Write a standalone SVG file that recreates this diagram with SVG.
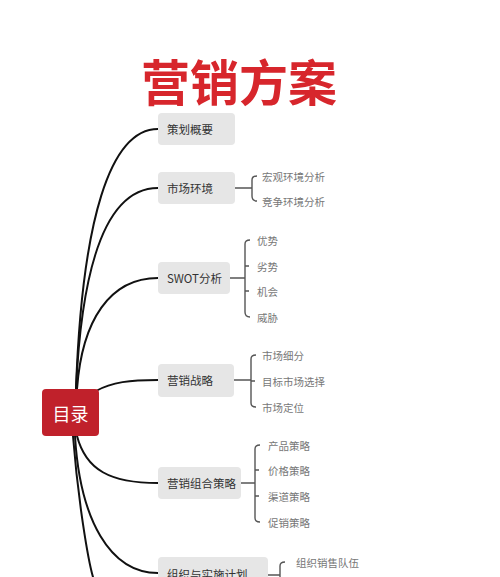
<svg xmlns="http://www.w3.org/2000/svg" width="500" height="577" viewBox="0 0 500 577">
<style>
text{font-family:"Noto Sans CJK SC","Noto Sans",sans-serif;dominant-baseline:central}
.title{font-size:49px;font-weight:bold;fill:#D7262C}
.box{fill:#E6E6E6}
.lbl{font-size:11.5px;fill:#333}
.sub{font-size:10.5px;fill:#777}
.conn{fill:none;stroke:#111;stroke-width:2;stroke-linecap:round}
.br{fill:none;stroke:#555;stroke-width:1.4}
</style>
<rect width="500" height="577" fill="#fff"/>
<text class="title" x="239" y="79" text-anchor="middle">营销方案</text>
<g id="connectors">
<path class="conn" d="M76 389 C82 220 110 129 158 129"/>
<path class="conn" d="M76 389 C82 260 108 188 158 188"/>
<path class="conn" d="M77 389 C82 320 110 278 158 278"/>
<path class="conn" d="M96 391 C112 382 130 380 158 380"/>
<path class="conn" d="M77 436 C86 470 110 483 158 483"/>
<path class="conn" d="M75 436 C80 520 110 573 158 573"/>
<path class="conn" d="M73 436 C78 500 88 560 93 577"/>
<g class="br">
<path d="M235 188 H252 M257 176 Q252 176 252 180 V196 Q252 201 257 201"/>
<path d="M230 278 H245 M250 240 Q245 240 245 244 V312 Q245 317 250 317 M245 266 H249 M245 291 H249"/>
<path d="M234 380 H251 M256 355 Q251 355 251 359 V403 Q251 407 256 407 M251 381 H255"/>
<path d="M241 483 H255 M260 445 Q255 445 255 449 V518 Q255 522 260 522 M255 470 H259 M255 496 H259"/>
<path d="M268 575 H280 M285 562 Q280 562 280 566 V577"/>
</g>
</g>
<g id="root">
<rect x="42" y="389" width="57" height="47" rx="4" fill="#C0212B"/>
<text x="70.5" y="413" text-anchor="middle" style="font-size:18px;fill:#fff">目录</text>
</g>
<g id="n1"><rect class="box" x="158" y="113" width="77" height="32" rx="4"/><text class="lbl" x="167" y="129">策划概要</text></g>
<g id="n2"><rect class="box" x="158" y="172" width="77" height="32" rx="4"/><text class="lbl" x="167" y="188">市场环境</text>
<text class="sub" x="262" y="176">宏观环境分析</text><text class="sub" x="262" y="201">竞争环境分析</text></g>
<g id="n3"><rect class="box" x="158" y="262" width="72" height="32" rx="4"/><text class="lbl" x="167" y="278">SWOT分析</text>
<text class="sub" x="257" y="240">优势</text><text class="sub" x="257" y="266">劣势</text><text class="sub" x="257" y="291">机会</text><text class="sub" x="257" y="317">威胁</text></g>
<g id="n4"><rect class="box" x="158" y="364" width="76" height="33" rx="4"/><text class="lbl" x="167" y="380">营销战略</text>
<text class="sub" x="262" y="355">市场细分</text><text class="sub" x="262" y="381">目标市场选择</text><text class="sub" x="262" y="407">市场定位</text></g>
<g id="n5"><rect class="box" x="158" y="467" width="83" height="32" rx="4"/><text class="lbl" x="167" y="483">营销组合策略</text>
<text class="sub" x="268" y="445">产品策略</text><text class="sub" x="268" y="470">价格策略</text><text class="sub" x="268" y="496">渠道策略</text><text class="sub" x="268" y="522">促销策略</text></g>
<g id="n6"><rect class="box" x="158" y="557" width="110" height="32" rx="4"/><text class="lbl" x="167" y="574">组织与实施计划</text>
<text class="sub" x="296" y="562">组织销售队伍</text></g>
</svg>
